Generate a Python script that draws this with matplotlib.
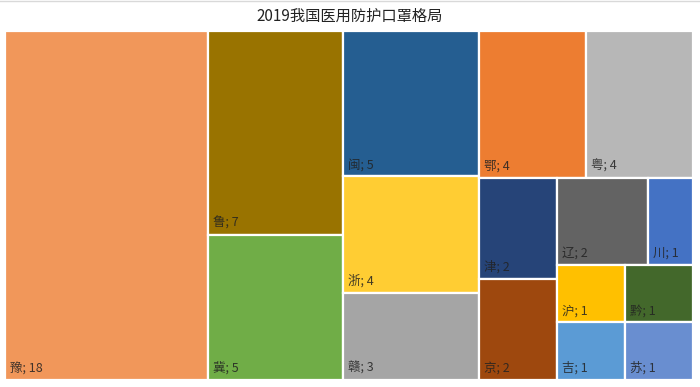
import matplotlib
matplotlib.use("Agg")
import matplotlib.pyplot as plt
from matplotlib.patches import Rectangle
from matplotlib.lines import Line2D

plt.rcParams['font.family'] = ['Noto Sans CJK SC', 'DejaVu Sans']

title = "2019我国医用防护口罩格局"
names = ["豫", "鲁", "冀", "闽", "浙", "赣", "鄂", "粤", "津", "京", "辽", "川", "沪", "吉", "黔", "苏"]
values = [18, 7, 5, 5, 4, 3, 4, 4, 2, 2, 2, 1, 1, 1, 1, 1]
colors = ["#F1975A", "#997300", "#70AD47", "#255E91", "#FFCD33", "#A5A5A5",
          "#ED7D31", "#B7B7B7", "#264478", "#9E480E", "#636363", "#4472C4",
          "#FFC000", "#5B9BD5", "#43682B", "#698ED0"]


def worst(row, length, scale):
    s = sum(row) * scale
    thick = s / length
    r = 0
    for v in row:
        side = v * scale / thick
        r = max(r, thick / side, side / thick)
    return r


def squarify(vals, x, y, w, h):
    rects = []
    vals = list(vals)
    i = 0
    while i < len(vals):
        rem = sum(vals[i:])
        scale = (w * h) / rem
        vertical = w >= h  # column along left side
        length = h if vertical else w
        row = [vals[i]]
        j = i + 1
        while j < len(vals):
            if worst(row + [vals[j]], length, scale) <= worst(row, length, scale):
                row.append(vals[j])
                j += 1
            else:
                break
        s = sum(row) * scale
        thick = s / length
        pos = 0
        for v in row:
            side = v * scale / thick
            if vertical:
                rects.append((x, y + pos, thick, side))
            else:
                rects.append((x + pos, y, side, thick))
            pos += side
        if vertical:
            x += thick
            w -= thick
        else:
            y += thick
            h -= thick
        i = j
    return rects


fig = plt.figure(figsize=(7, 3.87), dpi=100)
W, H = 688.0, 349.0
ax = fig.add_axes([5 / 700, 1 - 380 / 387, W / 700, H / 387])
ax.set_xlim(0, W)
ax.set_ylim(H, 0)
ax.axis('off')

rects = squarify(values, 0, 0, W, H)
for (rx, ry, rw, rh), n, v, c in zip(rects, names, values, colors):
    ax.add_patch(Rectangle((rx, ry), rw, rh, facecolor=c, edgecolor='white', linewidth=1.6))
    ax.text(rx + 5, ry + rh - 5, f"{n}; {v}", ha='left', va='bottom',
            fontsize=9, color='#222222', alpha=0.85)

fig.add_artist(Line2D([0, 1], [1 - 0.6 / 387, 1 - 0.6 / 387], transform=fig.transFigure,
                      color='#D9D9D9', linewidth=1))
fig.text(0.5, 1 - 16 / 387, title, ha='center', va='center', fontsize=11, color='#222222')
fig.savefig("out.png", dpi=100)
